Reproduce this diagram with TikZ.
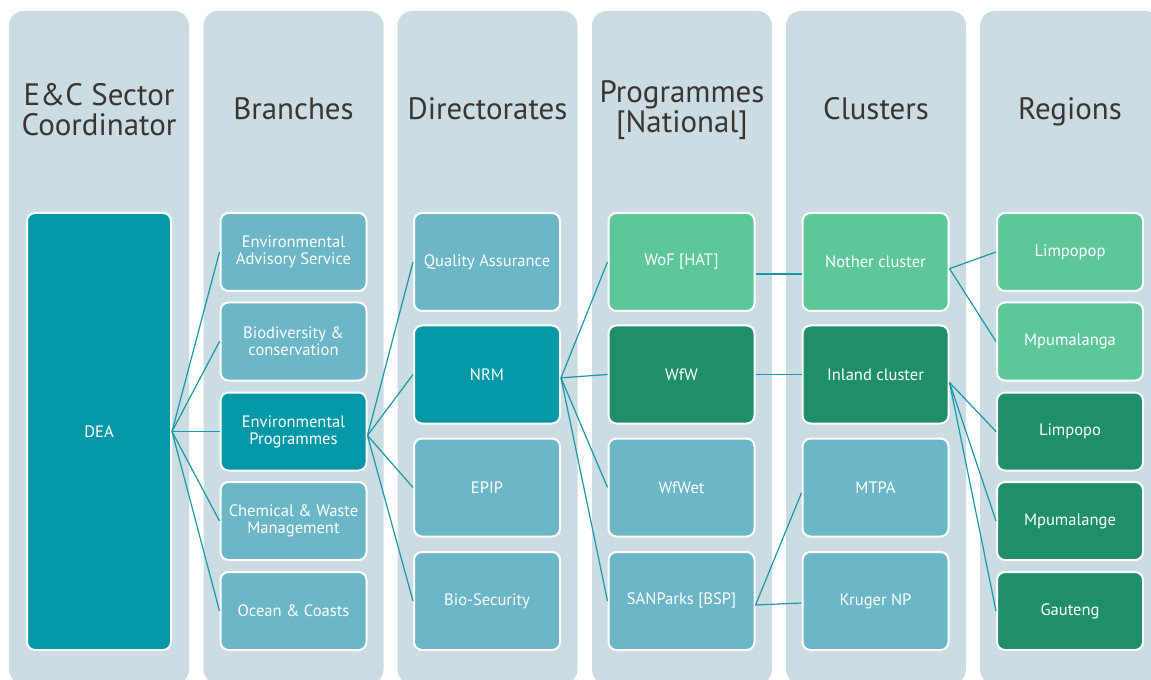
\documentclass[tikz,border=0pt]{standalone}
\usepackage{fontspec}
\setmainfont{PT Sans}
\definecolor{panelc}{HTML}{CBDCE2}
\definecolor{tealc}{HTML}{0398A8}
\definecolor{lightc}{HTML}{6CB7C7}
\definecolor{lgreenc}{HTML}{5DC79A}
\definecolor{dgreenc}{HTML}{1F8F6A}
\definecolor{linkc}{HTML}{1898A8}
\definecolor{headc}{HTML}{3A3531}
\begin{document}
\begin{tikzpicture}[x=0.75pt,y=-0.75pt,
  panel/.style={fill=panelc, rounded corners=11pt},
  box/.style={draw=white, line width=1.5pt, rounded corners=6pt, text=white,
    font=\fontsize{12.4}{12.6}\selectfont, align=center, inner sep=2pt,
    minimum width=109.5pt},
  sbox/.style={box, minimum height=58.5pt},
  tbox/.style={box, minimum height=73.5pt},
  head/.style={text=headc, font=\fontsize{23.2}{22.5}\selectfont, align=center},
  link/.style={draw=linkc, line width=0.9pt},
  teal/.style={fill=tealc},
  light/.style={fill=lightc},
  lgreen/.style={fill=lgreenc},
  dgreen/.style={fill=dgreenc}
]
\useasboundingbox (0,0) rectangle (1151,680);
\clip (0,0) rectangle (1151,680);

% column panels
\foreach \px in {9,203.5,397.5,592,786,980}
  \fill[panel] (\px,11) rectangle (\px+180,684);

% column headings
\node[head] (h1) at (99,110) {E\&C Sector\\Coordinator};
\node[head, anchor=base] (h2) at (293.5,120) {Branches};
\node[head, anchor=base] (h3) at (487.5,120) {Directorates};
\node[head] (h4) at (682,110) {Programmes\\{[National]}};
\node[head, anchor=base] (h5) at (876,120) {Clusters};
\node[head, anchor=base] (h6) at (1070,120) {Regions};

% coordinator
\node[box, teal, minimum width=108pt, minimum height=327.75pt] (dea) at (99,431.5) {DEA};

% branches
\node[sbox, light] (eas) at (293.5,252) {Environmental\\Advisory Service};
\node[sbox, light] (bio) at (293.5,341.5) {Biodiversity \&\\conservation};
\node[sbox, teal] (ep) at (293.5,431.5) {Environmental\\Programmes};
\node[sbox, light] (cwm) at (293.5,521) {Chemical \& Waste\\Management};
\node[sbox, light] (oc) at (293.5,611) {Ocean \& Coasts};

% directorates
\node[tbox, light] (qa) at (487,262) {Quality Assurance};
\node[tbox, teal] (nrm) at (487,374.5) {NRM};
\node[tbox, light] (epip) at (487,487.5) {EPIP};
\node[tbox, light] (bs) at (487,601) {Bio-Security};

% programmes
\node[tbox, lgreen] (wof) at (681.5,262) {WoF [HAT]};
\node[tbox, dgreen] (wfw) at (681.5,374.5) {WfW};
\node[tbox, light] (wfwet) at (681.5,487.5) {WfWet};
\node[tbox, light] (sanp) at (681.5,601) {SANParks [BSP]};

% clusters
\node[tbox, lgreen] (noth) at (875.5,262) {Nother cluster};
\node[tbox, dgreen] (inl) at (875.5,374.5) {Inland cluster};
\node[tbox, light] (mtpa) at (875.5,487.5) {MTPA};
\node[tbox, light] (kru) at (875.5,601) {Kruger NP};

% regions
\node[sbox, lgreen] (r1) at (1070,252) {Limpopop};
\node[sbox, lgreen] (r2) at (1070,341.5) {Mpumalanga};
\node[sbox, dgreen] (r3) at (1070,431.5) {Limpopo};
\node[sbox, dgreen] (r4) at (1070,521) {Mpumalange};
\node[sbox, dgreen] (r5) at (1070,611) {Gauteng};

% connectors
\foreach \c in {eas,bio,ep,cwm,oc}
  \draw[link] (dea.east) -- (\c.west);
\foreach \c in {qa,nrm,epip,bs}
  \draw[link] ([yshift=-3pt]ep.east) -- (\c.west);
\foreach \c in {wof,wfw,wfwet,sanp}
  \draw[link] ([yshift=-2.5pt]nrm.east) -- (\c.west);
\draw[link] ([yshift=-9pt]wof.east) -- ([yshift=-9pt]noth.west);
\draw[link] (wfw.east) -- (inl.west);
\draw[link] ([yshift=-3pt]sanp.east) -- ([yshift=-4pt]mtpa.west);
\draw[link] ([yshift=-3pt]sanp.east) -- ([yshift=-1.5pt]kru.west);
\foreach \c in {r1,r2}
  \draw[link] ([yshift=-5pt]noth.east) -- (\c.west);
\foreach \c in {r3,r4,r5}
  \draw[link] ([yshift=-6pt]inl.east) -- (\c.west);
\end{tikzpicture}
\end{document}
